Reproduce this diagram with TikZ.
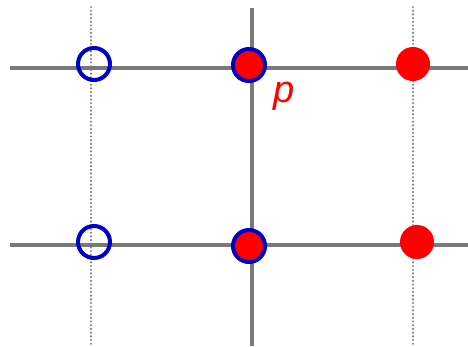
\documentclass[tikz,border=0pt]{standalone}
\usepackage{fontspec}
\setsansfont{Liberation Sans}
\begin{document}
\begin{tikzpicture}[x=1pt,y=-1pt,
  gridline/.style={draw=gray!95!black, line width=4pt},
  dotline/.style={draw=gray, line width=2.4pt, line cap=round, dash pattern=on 0pt off 3.7pt},
  ring/.style={circle, draw={rgb,255:red,0;green,0;blue,200}, line width=4pt, minimum size=32pt, inner sep=0pt},
  dot/.style={circle, fill=red, minimum size=34pt, inner sep=0pt},
  innerdot/.style={circle, fill=red, minimum size=30pt, inner sep=0pt}]
\useasboundingbox (0,0) rectangle (468,346);
% end points of the grid lines
\coordinate (h1a) at (10,68);  \coordinate (h1b) at (468,68);
\coordinate (h2a) at (10,245); \coordinate (h2b) at (468,245);
\coordinate (vta) at (252,8);  \coordinate (vtb) at (252,346);
\coordinate (d1a) at (91,7);   \coordinate (d1b) at (91,346);
\coordinate (d2a) at (413,7);  \coordinate (d2b) at (413,346);
% dotted verticals
\draw[dotline] (d1a) -- (d1b);
\draw[dotline] (d2a) -- (d2b);
% solid lines
\draw[gridline] (h1a) -- (h1b);
\draw[gridline] (h2a) -- (h2b);
\draw[gridline] (vta) -- (vtb);
% points
\node[innerdot] (c1) at (249,65) {};
\node[innerdot] (c2) at (249,246) {};
\node[ring] (b1) at (94,64) {};
\node[ring] (b2) at (94,242) {};
\node[ring] (b3) at (249,65) {};
\node[ring] (b4) at (249,246) {};
\node[dot] (r1) at (413,64) {};
\node[dot] (r2) at (417,242) {};
\node[text=red, font=\sffamily\itshape\fontsize{38}{38}\selectfont, inner sep=0pt] (p) at (284,96) {p};
\end{tikzpicture}
\end{document}
